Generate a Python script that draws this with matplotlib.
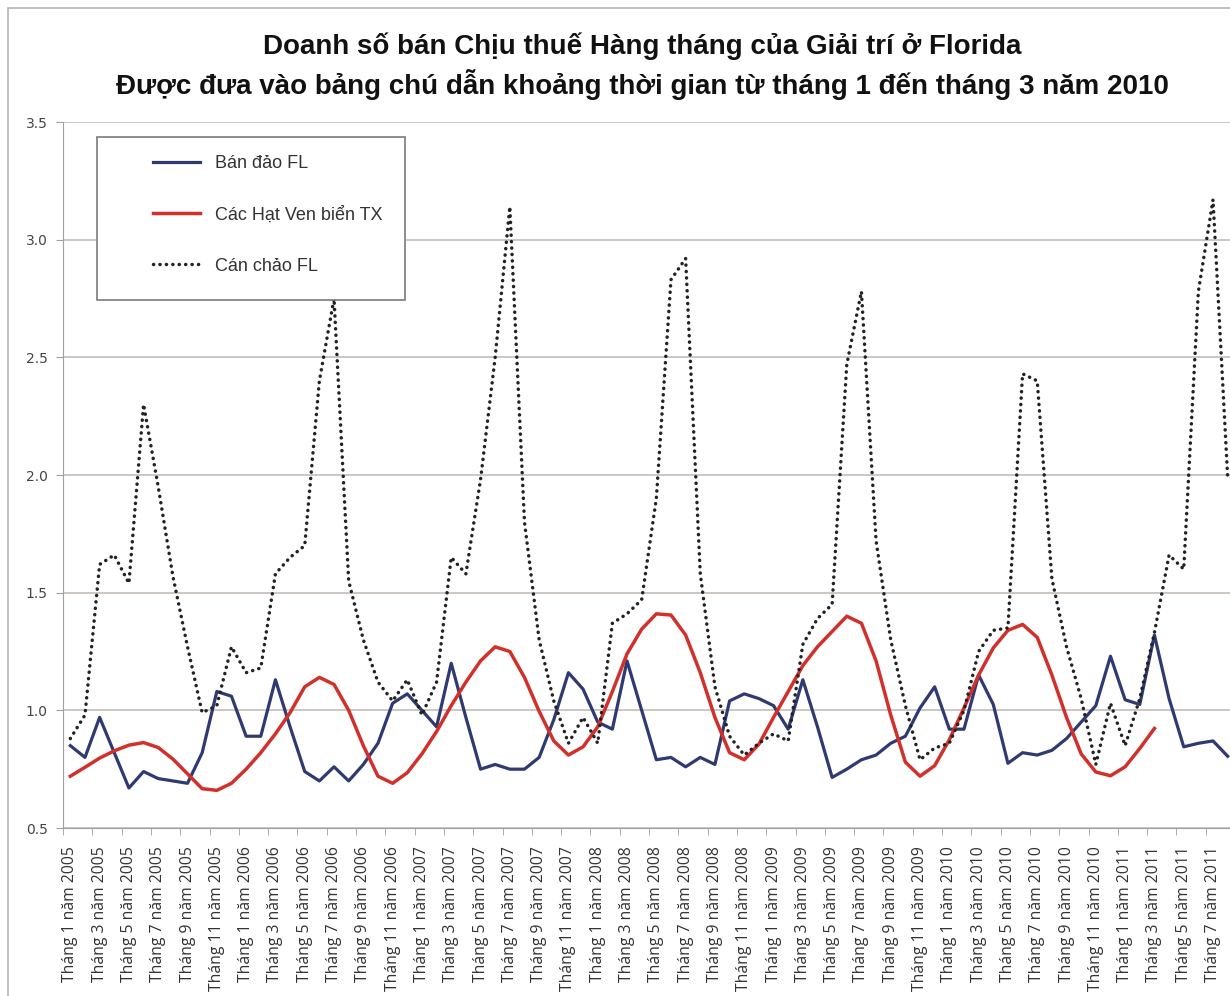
import numpy as np
import matplotlib
matplotlib.use("Agg")
import matplotlib.pyplot as plt
from matplotlib.patches import Rectangle

# month categories Jan 2005 .. Aug 2011
months = [f"Tháng {m} năm {y}" for y in range(2005, 2012) for m in range(1, 13)][:80]

fl_peninsula = [0.85, 0.80, 0.97, 0.82, 0.67, 0.74, 0.71, 0.70, 0.69, 0.82,
                1.08, 1.06, 0.89, 0.89, 1.13, 0.93, 0.74, 0.70, 0.76, 0.70,
                0.77, 0.86, 1.03, 1.07, 1.00, 0.93, 1.20, 0.97, 0.75, 0.77,
                0.75, 0.75, 0.80, 0.96, 1.16, 1.09, 0.95, 0.92, 1.21, 1.00,
                0.79, 0.80, 0.76, 0.80, 0.77, 1.04, 1.07, 1.05, 1.02, 0.92,
                1.13, 0.93, 0.715, 0.75, 0.79, 0.81, 0.86, 0.89, 1.01, 1.10,
                0.92, 0.92, 1.15, 1.025, 0.775, 0.82, 0.81, 0.83, 0.88, 0.95,
                1.02, 1.23, 1.045, 1.025, 1.32, 1.05, 0.845, 0.86, 0.87, 0.805]

tx_coastal = [0.72, 0.758, 0.797, 0.828, 0.852, 0.863, 0.842, 0.793, 0.73, 0.667,
              0.66, 0.69, 0.75, 0.82, 0.90, 0.99, 1.10, 1.14, 1.11, 1.00,
              0.85, 0.72, 0.69, 0.735, 0.815, 0.91, 1.02, 1.12, 1.21, 1.27,
              1.25, 1.14, 0.996, 0.87, 0.81, 0.845, 0.93, 1.08, 1.24, 1.345,
              1.41, 1.405, 1.32, 1.16, 0.97, 0.82, 0.79, 0.856, 0.97, 1.08,
              1.19, 1.27, 1.335, 1.40, 1.37, 1.21, 0.98, 0.78, 0.72, 0.765,
              0.875, 1.01, 1.15, 1.265, 1.34, 1.365, 1.31, 1.15, 0.97, 0.815,
              0.738, 0.722, 0.76, 0.838, 0.923]

fl_panhandle = [0.88, 0.98, 1.62, 1.66, 1.54, 2.30, 1.95, 1.57, 1.27, 0.99,
                1.02, 1.27, 1.16, 1.18, 1.58, 1.65, 1.70, 2.40, 2.75, 1.55,
                1.30, 1.12, 1.04, 1.13, 0.98, 1.12, 1.65, 1.58, 1.98, 2.50,
                3.14, 1.80, 1.30, 1.04, 0.86, 0.97, 0.86, 1.37, 1.41, 1.47,
                1.90, 2.83, 2.92, 1.58, 1.10, 0.89, 0.81, 0.86, 0.90, 0.87,
                1.28, 1.39, 1.45, 2.47, 2.78, 1.72, 1.30, 1.02, 0.79, 0.84,
                0.86, 1.00, 1.25, 1.34, 1.35, 2.43, 2.40, 1.56, 1.27, 1.05,
                0.77, 1.03, 0.85, 1.05, 1.33, 1.66, 1.60, 2.78, 3.17, 1.99]

series_names = ["Bán đảo FL", "Các Hạt Ven biển TX", "Cán chảo FL"]
title1 = "Doanh số bán Chịu thuế Hàng tháng của Giải trí ở Florida"
title2 = "Được đưa vào bảng chú dẫn khoảng thời gian từ tháng 1 đến tháng 3 năm 2010"

W, H = 1230, 996
fig = plt.figure(figsize=(W / 100, H / 100), dpi=100)
fig.patch.set_facecolor("white")
fig.patches.append(Rectangle((8 / W, -0.01), 1.1, 1 - 8 / H + 0.01,
                             transform=fig.transFigure, fill=False,
                             edgecolor="#b5b5b5", lw=1.2))

ax = fig.add_axes([63 / W, 168 / H, 1172 / W, 706 / H])
x = np.arange(len(months))

ax.plot(x, fl_peninsula, color="#2f3a72", lw=2.3, label=series_names[0])
ax.plot(np.arange(len(tx_coastal)), tx_coastal, color="#d1302b", lw=2.5,
        label=series_names[1])
ax.plot(x, fl_panhandle, color="#222222", lw=2.5, linestyle=(0, (0.05, 1.8)),
        dash_capstyle="round", label=series_names[2])

ax.set_xlim(-0.5, 79.5)
ax.set_ylim(0.5, 3.5)
ax.set_yticks(np.arange(0.5, 3.51, 0.5))
ax.set_yticklabels([f"{v:.1f}" for v in np.arange(0.5, 3.51, 0.5)])
ax.yaxis.grid(True, color="#c9c3be", lw=1.3)
ax.set_axisbelow(True)

ax.set_xticks(x[::2])
ax.set_xticklabels(months[::2], rotation=90, fontsize=11.3, color="#333333",
                   family="Open Sans")
ax.set_xticks(np.arange(-0.5, 80, 2), minor=True)
ax.tick_params(axis="x", which="major", length=0, pad=13)
ax.tick_params(axis="x", which="minor", length=5, color="#a0a0a0", direction="out")
ax.tick_params(axis="y", length=5, color="#a0a0a0", labelsize=10,
               labelcolor="#444444", pad=6)

for s in ["top", "right"]:
    ax.spines[s].set_visible(False)
ax.spines["left"].set_color("#a0a0a0")
ax.spines["bottom"].set_color("#a0a0a0")

fig.text(642 / W, 1 - 54 / H, title1, ha="center", va="baseline",
         fontsize=20, fontweight="bold", family="Liberation Sans", color="#111111")
fig.text(642 / W, 1 - 94 / H, title2, ha="center", va="baseline",
         fontsize=20, fontweight="bold", family="Liberation Sans", color="#111111")

# legend box drawn separately, entries without frame
fig.patches.append(Rectangle((97 / W, 1 - 300 / H), 308 / W, 163 / H,
                             transform=fig.transFigure, facecolor="white",
                             edgecolor="#7a7a7a", lw=1.2, zorder=4))
leg = fig.legend(*ax.get_legend_handles_labels(), loc="upper left",
                 bbox_to_anchor=(153 / W, 1 - 155 / H), borderaxespad=0,
                 borderpad=0, frameon=False,
                 prop={"family": "Liberation Sans", "size": 13},
                 handlelength=2.6, handletextpad=0.85, labelspacing=1.9)
leg.set_zorder(5)
for t in leg.get_texts():
    t.set_color("#333333")

fig.savefig("out.png", dpi=100)
